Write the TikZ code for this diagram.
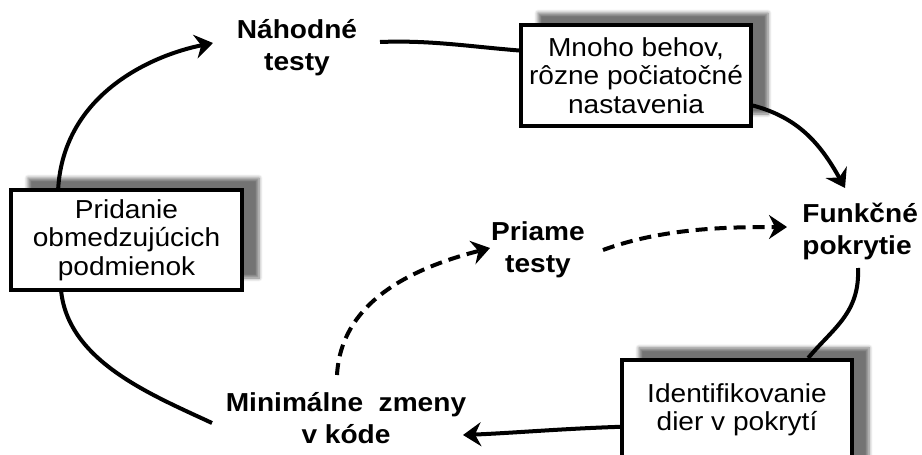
\documentclass[tikz,border=0pt]{standalone}
\usepackage{fontspec}
\setmainfont{Liberation Sans}[FakeStretch=1.08]
\usetikzlibrary{calc,arrows.meta,shadows.blur}
\begin{document}
\begin{tikzpicture}[x=0.5pt,y=-0.5pt,
  box/.style={draw=black, line width=1.8pt, fill=white, inner sep=0pt,
    align=center, font=\fontsize{13}{14.25}\selectfont,
    blur shadow={shadow xshift=8.5pt, shadow yshift=6pt, shadow blur radius=1.8pt, shadow blur steps=6, shadow opacity=55}},
  boxtext/.style={inner sep=0pt, align=center, font=\fontsize{13}{14.25}\selectfont},
  lbl/.style={inner sep=0pt, align=center, font=\bfseries\fontsize{13}{16}\selectfont},
  conn/.style={line width=2pt, -{Stealth[length=9pt,width=12pt,inset=3pt]}},
  plain/.style={line width=2pt},
  dconn/.style={conn, dash pattern=on 6pt off 3.5pt}]
\useasboundingbox (0,0) rectangle (922,455);
\clip (0,0) rectangle (922,455);

% boxes
\node[box, minimum width=115pt, minimum height=50.5pt] (mnoho) at (636,75.5)
  {Mnoho behov,\\rôzne počiatočné\\nastavenia};
\node[box, minimum width=115.5pt, minimum height=50pt] (prid) at (126.5,240)
  {Pridanie\\obmedzujúcich\\podmienok};
\node[box, minimum width=115pt, minimum height=56pt, anchor=north] (ident) at (737,358) {};
\node[boxtext] (identtext) at (737,410) {Identifikovanie\\dier v pokrytí};

% labels
\node[lbl] (nah) at (297,48) {Náhodné\\testy};
\node[lbl] (pri) at (538,250) {Priame\\testy};
\node[lbl, align=left, anchor=west] (fun) at (802,231) {Funkčné\\pokrytie};
\node[lbl] (min) at (346,418) {Minimálne\ \ zmeny\\v kóde};

% free ends
\coordinate (t1) at (213,43);
\coordinate (s2) at (380,42);
\coordinate (t3) at (845,188);
\coordinate (s4) at (858,268);
\coordinate (t5) at (463,435);
\coordinate (e6) at (212,423);
\coordinate (s7) at (337,375);
\coordinate (t7) at (490,248);
\coordinate (s8) at (603,250);
\coordinate (t8) at (787,227);

% connectors
\draw[conn] ($(prid.north west)+(49,0)$) .. controls +(6,-95) and +(-60,12) .. (t1);
\draw[plain] (s2) .. controls +(50,-2) and +(-50,-4) .. ($(mnoho.west)+(0,-25)$);
\draw[conn] ($(mnoho.east)+(0,30)$) .. controls +(45,12) and +(-25,-45) .. (t3);
\draw[plain] (s4) .. controls +(2,45) and +(25,-30) .. ($(ident.north west)+(188,0)$);
\draw[conn] ($(ident.west)+(0,11)$) .. controls +(-60,2) and +(50,-2) .. (t5);
\draw[plain] ($(prid.south west)+(52,0)$) .. controls +(8,70) and +(-60,-28) .. (e6);
\draw[dconn] (s7) .. controls +(4,-70) and +(-85,22) .. (t7);
\draw[dconn] (s8) .. controls +(60,-22) and +(-60,0) .. (t8);
\end{tikzpicture}
\end{document}
